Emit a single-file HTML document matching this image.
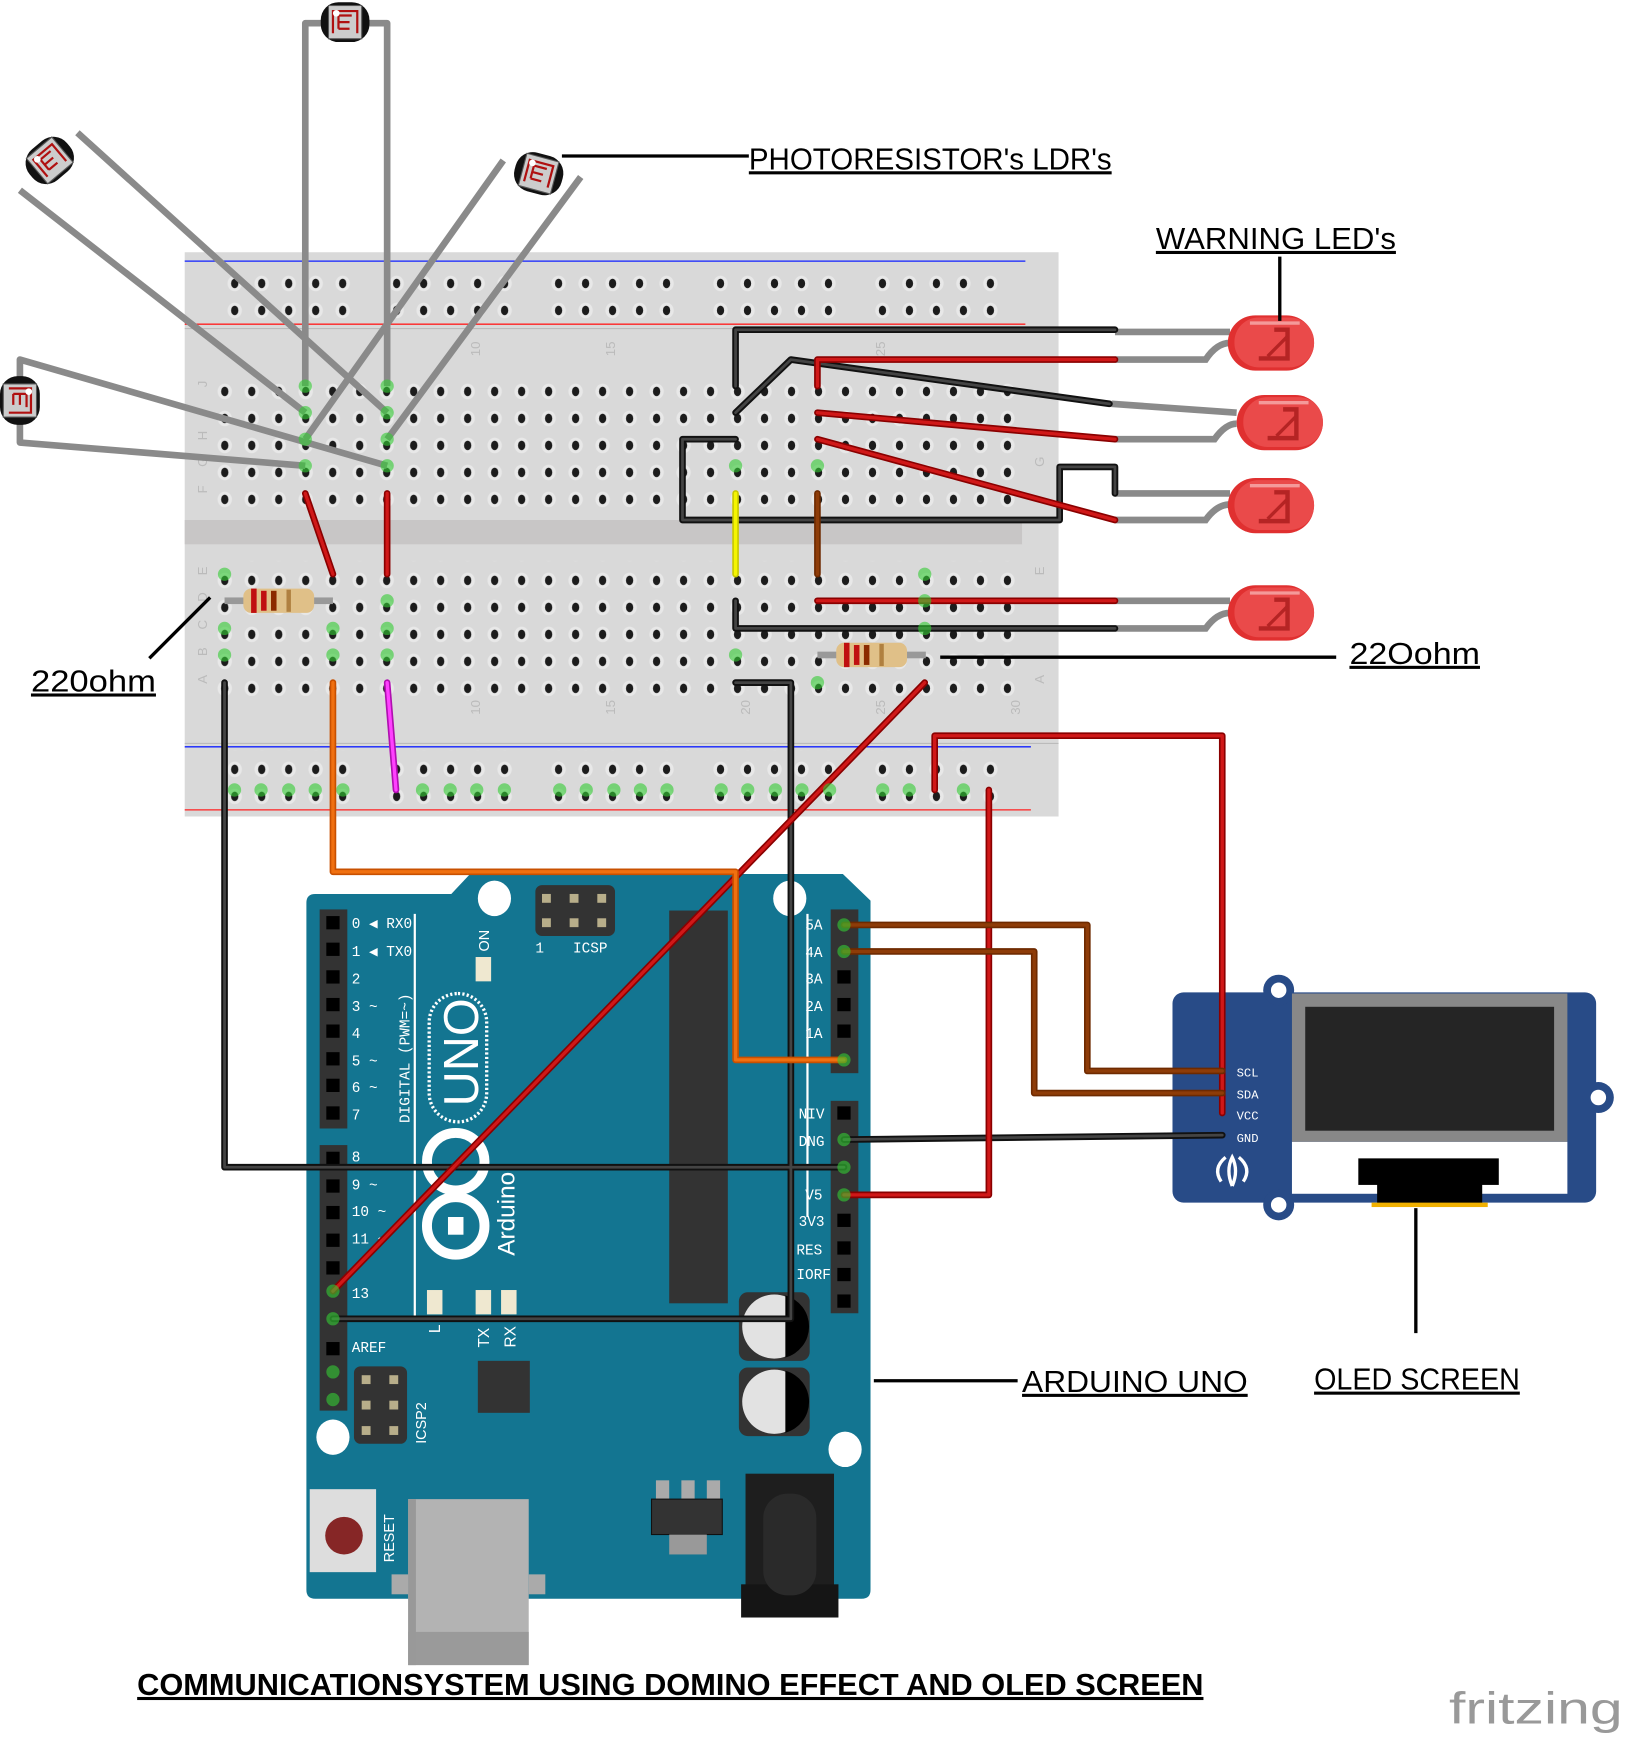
<!DOCTYPE html>
<html><head><meta charset="utf-8"><style>html,body{margin:0;padding:0;background:#fff}svg{display:block}</style></head>
<body>
<svg width="1626" height="1737" viewBox="0 0 1470 1570" preserveAspectRatio="none" xmlns="http://www.w3.org/2000/svg" font-family="Liberation Sans, sans-serif">
<defs>
<pattern id="mh" x="191" y="0" width="24.4" height="24.4" patternUnits="userSpaceOnUse"><ellipse cx="12.2" cy="12.2" rx="6.5" ry="7" fill="#e8e8e8"/><ellipse cx="12.2" cy="12.2" rx="3.3" ry="4.3" fill="#1c1c1c"/></pattern>
<pattern id="rh" x="200" y="0" width="24.4" height="24.4" patternUnits="userSpaceOnUse"><ellipse cx="12.2" cy="12.2" rx="6.5" ry="7" fill="#e8e8e8"/><ellipse cx="12.2" cy="12.2" rx="3.3" ry="4.3" fill="#1c1c1c"/></pattern>
<g id="led"><rect x="0" y="-25" width="78" height="50" rx="25" fill="#e03030"/><rect x="6" y="-23" width="72" height="45" rx="22" fill="#ea4a4a"/><path d="M42 -12 h12 v26 h-26" fill="none" stroke="#b52424" stroke-width="4"/><path d="M36 12 L54 -6" stroke="#b52424" stroke-width="3"/><path d="M20 -18 h45" stroke="#f49a9a" stroke-width="3"/></g>
<g id="ldr"><rect x="-22" y="-18" width="44" height="36" rx="16" fill="#111"/><rect x="-15" y="-15" width="30" height="30" fill="#ccc" stroke="#555" stroke-width="1"/><path d="M-11 10 v-20 h22 v20 M-6 6 v-12 h12 M-6 0 h10 M-6 6 h10" fill="none" stroke="#b01010" stroke-width="2"/><circle cx="-8" cy="-8" r="3" fill="#fff"/></g>
<g id="res"><rect x="0" y="-3" width="98" height="6" fill="#999"/><rect x="17" y="-11" width="64" height="22" rx="7" fill="#e0c088"/><rect x="24" y="-11" width="5" height="22" fill="#c01010"/><rect x="33" y="-9" width="5" height="18" fill="#c01010"/><rect x="42" y="-9" width="5" height="18" fill="#8b2a00"/><rect x="56" y="-10" width="4" height="20" fill="#b08040"/></g>
</defs>

<rect x="167" y="228" width="790" height="510" fill="#d9d9d9"/>
<rect x="167" y="470" width="757" height="22" fill="#c8c6c6"/>
<line x1="167" y1="236" x2="927" y2="236" stroke="#1020ff" stroke-width="1.2"/>
<line x1="167" y1="293" x2="927" y2="293" stroke="#ff2020" stroke-width="1.2"/>
<line x1="167" y1="297" x2="957" y2="297" stroke="#bbb" stroke-width="1"/>
<line x1="167" y1="675" x2="932" y2="675" stroke="#1020ff" stroke-width="1.2"/>
<line x1="167" y1="732" x2="932" y2="732" stroke="#ff2020" stroke-width="1.2"/>
<line x1="167" y1="672" x2="957" y2="672" stroke="#bbb" stroke-width="1"/>
<rect x="191" y="337" width="732" height="122" fill="url(#mh)"/>
<rect x="191" y="507" width="732" height="122" fill="url(#mh)"/>
<g fill="url(#rh)">
<rect x="200" y="239" width="122" height="49"/><rect x="348" y="239" width="122" height="49"/><rect x="494" y="239" width="122" height="49"/><rect x="640" y="239" width="122" height="49"/><rect x="786" y="239" width="122" height="49"/>
<rect x="200" y="678" width="122" height="49"/><rect x="348" y="678" width="122" height="49"/><rect x="494" y="678" width="122" height="49"/><rect x="640" y="678" width="122" height="49"/><rect x="786" y="678" width="122" height="49"/>
</g>
<g font-size="12" fill="#bbb">
<text x="183" y="354" transform="rotate(-90 183 350)">J</text><text x="183" y="378" transform="rotate(-90 183 374)">I</text><text x="183" y="402" transform="rotate(-90 183 398)">H</text><text x="183" y="426" transform="rotate(-90 183 422)">G</text><text x="183" y="450" transform="rotate(-90 183 446)">F</text>
<text x="183" y="524" transform="rotate(-90 183 520)">E</text><text x="183" y="548" transform="rotate(-90 183 544)">D</text><text x="183" y="573" transform="rotate(-90 183 569)">C</text><text x="183" y="597" transform="rotate(-90 183 593)">B</text><text x="183" y="622" transform="rotate(-90 183 618)">A</text>
<text x="428" y="328" transform="rotate(-90 428 322)">10</text><text x="550" y="328" transform="rotate(-90 550 322)">15</text><text x="794" y="328" transform="rotate(-90 794 322)">25</text>
<text x="428" y="652" transform="rotate(-90 428 646)">10</text><text x="550" y="652" transform="rotate(-90 550 646)">15</text><text x="672" y="652" transform="rotate(-90 672 646)">20</text><text x="794" y="652" transform="rotate(-90 794 646)">25</text><text x="916" y="652" transform="rotate(-90 916 646)">30</text>
<text x="940" y="524" transform="rotate(-90 940 520)">E</text><text x="940" y="622" transform="rotate(-90 940 618)">A</text><text x="940" y="426" transform="rotate(-90 940 422)">G</text>
</g>

<path d="M285 808 H408 L425 790 H762 L787 814 V1437 Q787 1445 779 1445 H285 Q277 1445 277 1437 V816 Q277 808 285 808Z" fill="#137591"/>
<rect x="289" y="822" width="25" height="198" fill="#333"/><rect x="289" y="1035" width="25" height="240" fill="#333"/>
<rect x="751" y="822" width="25" height="148" fill="#333"/><rect x="751" y="995" width="25" height="192" fill="#333"/>
<g fill="#000">
<rect x="295" y="828" width="12" height="12"/><rect x="295" y="852" width="12" height="12"/><rect x="295" y="877" width="12" height="12"/><rect x="295" y="902" width="12" height="12"/><rect x="295" y="926" width="12" height="12"/><rect x="295" y="951" width="12" height="12"/><rect x="295" y="975" width="12" height="12"/><rect x="295" y="1000" width="12" height="12"/>
<rect x="295" y="1041" width="12" height="12"/><rect x="295" y="1066" width="12" height="12"/><rect x="295" y="1090" width="12" height="12"/><rect x="295" y="1115" width="12" height="12"/><rect x="295" y="1140" width="12" height="12"/><rect x="295" y="1213" width="12" height="12"/>
<rect x="757" y="877" width="12" height="12"/><rect x="757" y="902" width="12" height="12"/><rect x="757" y="926" width="12" height="12"/><rect x="757" y="1000" width="12" height="12"/><rect x="757" y="1097" width="12" height="12"/><rect x="757" y="1122" width="12" height="12"/><rect x="757" y="1146" width="12" height="12"/><rect x="757" y="1170" width="12" height="12"/>
</g>
<rect x="605" y="823" width="53" height="355" fill="#333"/>
<rect x="484" y="800" width="72" height="46" rx="6" fill="#333"/>
<g fill="#b8ae8a"><rect x="490" y="808" width="8" height="8"/><rect x="515" y="808" width="8" height="8"/><rect x="540" y="808" width="8" height="8"/><rect x="490" y="830" width="8" height="8"/><rect x="515" y="830" width="8" height="8"/><rect x="540" y="830" width="8" height="8"/></g>
<rect x="320" y="1235" width="48" height="70" rx="6" fill="#333"/>
<g fill="#b8ae8a"><rect x="327" y="1243" width="8" height="8"/><rect x="352" y="1243" width="8" height="8"/><rect x="327" y="1266" width="8" height="8"/><rect x="352" y="1266" width="8" height="8"/><rect x="327" y="1289" width="8" height="8"/><rect x="352" y="1289" width="8" height="8"/></g>
<rect x="432" y="1230" width="47" height="47" fill="#333"/>
<rect x="668" y="1168" width="64" height="62" rx="8" fill="#333"/><circle cx="700" cy="1199" r="29" fill="#e2e2e2"/><path d="M710 1171 A29 29 0 0 1 710 1227Z" fill="#000"/>
<rect x="668" y="1236" width="64" height="62" rx="8" fill="#333"/><circle cx="700" cy="1267" r="29" fill="#e2e2e2"/><path d="M710 1239 A29 29 0 0 1 710 1295Z" fill="#000"/>
<g fill="#fff"><ellipse cx="447" cy="812" rx="15" ry="16"/><ellipse cx="714" cy="812" rx="15" ry="16"/><ellipse cx="301" cy="1299" rx="15" ry="16"/><ellipse cx="764" cy="1310" rx="15" ry="16"/></g>
<rect x="430" y="865" width="14" height="22" fill="#efe8d0"/>
<rect x="386" y="1166" width="14" height="22" fill="#efe8d0"/><rect x="430" y="1166" width="14" height="22" fill="#efe8d0"/><rect x="453" y="1166" width="14" height="22" fill="#efe8d0"/>
<line x1="375" y1="826" x2="375" y2="1190" stroke="#fff" stroke-width="2"/>
<line x1="730" y1="826" x2="730" y2="1100" stroke="#fff" stroke-width="2"/>
<rect x="388" y="898" width="52" height="116" rx="26" fill="none" stroke="#fff" stroke-width="3" stroke-dasharray="2 2"/>
<text x="0" y="0" font-size="44" fill="#fff" transform="translate(432 1000) rotate(-90)">UNO</text>
<circle cx="412" cy="1050" r="26" fill="none" stroke="#fff" stroke-width="9"/><circle cx="412" cy="1108" r="26" fill="none" stroke="#fff" stroke-width="9"/>
<rect x="405" y="1100" width="14" height="16" fill="#fff"/>
<text font-size="22" fill="#fff" transform="translate(465 1135) rotate(-90)">Arduino</text>
<text font-size="13" fill="#fff" font-family="Liberation Mono, monospace" transform="translate(370 1015) rotate(-90)">DIGITAL (PWM=~)</text>
<g font-size="13" fill="#fff" font-family="Liberation Mono, monospace">
<text x="318" y="839">0 ◀ RX0</text><text x="318" y="864">1 ◀ TX0</text><text x="318" y="889">2</text><text x="318" y="914">3 ~</text><text x="318" y="938">4</text><text x="318" y="963">5 ~</text><text x="318" y="987">6 ~</text><text x="318" y="1012">7</text>
<text x="318" y="1050">8</text><text x="318" y="1075">9 ~</text><text x="318" y="1099">10 ~</text><text x="318" y="1124">11 ~</text><text x="318" y="1173">13</text><text x="318" y="1222">AREF</text>
<text x="728" y="840">5A</text><text x="728" y="865">4A</text><text x="728" y="889">3A</text><text x="728" y="914">2A</text><text x="728" y="938">1A</text>
<text x="722" y="1011">NIV</text><text x="722" y="1036">DNG</text><text x="728" y="1084">V5</text><text x="722" y="1108">3V3</text><text x="720" y="1134">RES</text><text x="720" y="1156">IORF</text>
<text x="518" y="861">ICSP</text><text x="484" y="861">1</text>
</g>
<text font-size="13" fill="#fff" transform="translate(442 860) rotate(-90)">ON</text>
<text font-size="13" fill="#fff" transform="translate(385 1305) rotate(-90)">ICSP2</text>
<text font-size="13" fill="#fff" transform="translate(356 1412) rotate(-90)">RESET</text>
<text font-size="14" fill="#fff" transform="translate(442 1218) rotate(-90)">TX</text>
<text font-size="14" fill="#fff" transform="translate(466 1218) rotate(-90)">RX</text>
<text font-size="14" fill="#fff" transform="translate(398 1205) rotate(-90)">L</text>
<rect x="280" y="1346" width="60" height="75" fill="#ddd"/><ellipse cx="311" cy="1388" rx="17" ry="17" fill="#862626"/>
<rect x="369" y="1355" width="109" height="150" fill="#b3b3b3"/><rect x="369" y="1475" width="109" height="30" fill="#9a9a9a"/><rect x="369" y="1355" width="7" height="150" fill="#999"/>
<rect x="354" y="1423" width="15" height="18" fill="#aaa"/><rect x="478" y="1423" width="15" height="18" fill="#aaa"/>
<rect x="593" y="1338" width="12" height="22" fill="#aaa"/><rect x="616" y="1338" width="12" height="22" fill="#aaa"/><rect x="639" y="1338" width="12" height="22" fill="#aaa"/>
<rect x="589" y="1355" width="64" height="32" fill="#333" stroke="#111"/><rect x="605" y="1387" width="34" height="18" fill="#999"/>
<rect x="674" y="1332" width="80" height="110" fill="#1e1e1e"/><rect x="670" y="1432" width="88" height="30" fill="#151515"/><rect x="690" y="1350" width="48" height="92" rx="22" fill="#2a2a2a"/>

<rect x="1060" y="897" width="383" height="190" rx="10" fill="#284b87"/>
<circle cx="1156" cy="895" r="14" fill="#284b87"/><circle cx="1156" cy="895" r="7" fill="#fff"/>
<circle cx="1156" cy="1089" r="14" fill="#284b87"/><circle cx="1156" cy="1089" r="7" fill="#fff"/>
<circle cx="1445" cy="992" r="14" fill="#284b87"/><circle cx="1445" cy="992" r="7" fill="#fff"/>
<rect x="1168" y="1032" width="249" height="47" fill="#fff"/>
<rect x="1168" y="898" width="249" height="134" fill="#888"/><rect x="1180" y="910" width="225" height="112" fill="#252525"/>
<rect x="1228" y="1047" width="127" height="24" fill="#000"/><rect x="1245" y="1070" width="95" height="18" fill="#000"/><rect x="1240" y="1087" width="105" height="4" fill="#f0b000"/>
<g font-size="11" fill="#fff" font-family="Liberation Mono, monospace"><text x="1118" y="973">SCL</text><text x="1118" y="993">SDA</text><text x="1118" y="1012">VCC</text><text x="1118" y="1032">GND</text></g>
<path d="M1104 1068 q-8 -12 4 -22 M1124 1068 q8 -12 -4 -22 M1114 1072 q-6 -14 0 -26 q6 12 0 26" fill="none" stroke="#fff" stroke-width="3"/>

<g stroke="#8a8a8a" stroke-width="6" fill="none" stroke-linejoin="round">
<path d="M276 349 V21 H350 V349"/>
<path d="M350 373 L70 120 M276 373 L18 172"/>
<path d="M276 397 L455 145 M350 397 L525 160"/>
<path d="M350 421 L18 325 V400 L276 421"/>
</g>
<use href="#ldr" x="312" y="20"/>
<use href="#ldr" transform="translate(45 145) rotate(-40)"/>
<use href="#ldr" transform="translate(487 157) rotate(15)"/>
<use href="#ldr" transform="translate(18 362) rotate(90)"/>

<g stroke="#8a8a8a" stroke-width="6" fill="none">
<path d="M1008 300 H1112"/><path d="M1008 325 H1090 Q1100 310 1112 310"/>
<path d="M1005 365 L1118 373"/><path d="M1008 397 H1098 Q1108 383 1118 383"/>
<path d="M1008 446 H1112"/><path d="M1008 470 H1090 Q1100 456 1112 456"/>
<path d="M1008 543 H1112"/><path d="M1008 568 H1090 Q1100 554 1112 554"/>
</g>
<use href="#led" x="1110" y="310"/><use href="#led" x="1118" y="382"/><use href="#led" x="1110" y="457"/><use href="#led" x="1110" y="554"/>

<use href="#res" x="203" y="543"/><use href="#res" x="739" y="592"/>

<g fill="none" stroke-width="6" stroke-linecap="round" stroke-linejoin="round">
<g stroke="#111"><path d="M665 349 V298 H1008"/><path d="M665 373 L715 325 L1003 365"/><path d="M665 397 H617 V470 H958 V422 H1008 V446"/><path d="M665 543 V568 H1008"/><path d="M203 617 V1055 H763"/><path d="M665 617 H715 V1192 H301"/><path d="M763 1030 L1105 1026"/></g>
<g stroke="#444" stroke-width="2.5"><path d="M665 349 V298 H1008"/><path d="M665 373 L715 325 L1003 365"/><path d="M665 397 H617 V470 H958 V422 H1008 V446"/><path d="M665 543 V568 H1008"/><path d="M203 617 V1055 H763"/><path d="M665 617 H715 V1192 H301"/><path d="M763 1030 L1105 1026"/></g>
<g stroke="#8a0000"><path d="M276 446 L301 519"/><path d="M350 446 V519"/><path d="M739 349 V325 H1008"/><path d="M739 373 L1008 397"/><path d="M739 397 L1008 470"/><path d="M739 543 H1008"/><path d="M836 617 L301 1167"/><path d="M845 714 V665 H1105 V1006"/><path d="M894 714 V1080 H763"/></g>
<g stroke="#d01818" stroke-width="3"><path d="M276 446 L301 519"/><path d="M350 446 V519"/><path d="M739 349 V325 H1008"/><path d="M739 373 L1008 397"/><path d="M739 397 L1008 470"/><path d="M739 543 H1008"/><path d="M836 617 L301 1167"/><path d="M845 714 V665 H1105 V1006"/><path d="M894 714 V1080 H763"/></g>
<g stroke="#6e2a00"><path d="M739 446 V519"/><path d="M763 836 H983 V968 H1105"/><path d="M763 860 H935 V988 H1105"/></g>
<g stroke="#8e3c08" stroke-width="3"><path d="M739 446 V519"/><path d="M763 836 H983 V968 H1105"/><path d="M763 860 H935 V988 H1105"/></g>
<path d="M665 446 V519" stroke="#c8c800"/><path d="M665 446 V519" stroke="#f5f500" stroke-width="3"/>
<path d="M350 617 L358 714" stroke="#b010b0"/><path d="M350 617 L358 714" stroke="#ff40ff" stroke-width="3"/>
<path d="M301 617 V788 H665 V958 H763" stroke="#c85000"/><path d="M301 617 V788 H665 V958 H763" stroke="#f07010" stroke-width="3"/>
</g>
<g fill="#3c3" opacity="0.6">
<circle cx="276" cy="349" r="6"/><circle cx="350" cy="349" r="6"/><circle cx="276" cy="373" r="6"/><circle cx="350" cy="373" r="6"/><circle cx="276" cy="397" r="6"/><circle cx="350" cy="397" r="6"/><circle cx="276" cy="421" r="6"/><circle cx="350" cy="421" r="6"/>
<circle cx="203" cy="519" r="6"/><circle cx="203" cy="568" r="6"/><circle cx="203" cy="592" r="6"/><circle cx="301" cy="568" r="6"/><circle cx="301" cy="592" r="6"/><circle cx="350" cy="543" r="6"/><circle cx="350" cy="568" r="6"/><circle cx="350" cy="592" r="6"/>
<circle cx="665" cy="421" r="6"/><circle cx="739" cy="421" r="6"/><circle cx="665" cy="592" r="6"/><circle cx="739" cy="617" r="6"/><circle cx="836" cy="519" r="6"/><circle cx="836" cy="543" r="6"/><circle cx="836" cy="568" r="6"/>
<circle cx="212" cy="714" r="6"/><circle cx="236" cy="714" r="6"/><circle cx="261" cy="714" r="6"/><circle cx="285" cy="714" r="6"/><circle cx="310" cy="714" r="6"/><circle cx="382" cy="714" r="6"/><circle cx="407" cy="714" r="6"/><circle cx="431" cy="714" r="6"/><circle cx="456" cy="714" r="6"/>
<circle cx="506" cy="714" r="6"/><circle cx="530" cy="714" r="6"/><circle cx="555" cy="714" r="6"/><circle cx="579" cy="714" r="6"/><circle cx="603" cy="714" r="6"/><circle cx="652" cy="714" r="6"/><circle cx="676" cy="714" r="6"/><circle cx="701" cy="714" r="6"/><circle cx="725" cy="714" r="6"/><circle cx="750" cy="714" r="6"/><circle cx="798" cy="714" r="6"/><circle cx="822" cy="714" r="6"/><circle cx="871" cy="714" r="6"/>
<circle cx="763" cy="836" r="6"/><circle cx="763" cy="860" r="6"/><circle cx="763" cy="958" r="6"/><circle cx="763" cy="1030" r="6"/><circle cx="763" cy="1055" r="6"/><circle cx="763" cy="1080" r="6"/><circle cx="301" cy="1167" r="6"/><circle cx="301" cy="1192" r="6"/><circle cx="301" cy="1240" r="6"/><circle cx="301" cy="1265" r="6"/>
</g>

<g stroke="#000" stroke-width="3" fill="none">
<path d="M508 141 H677"/><path d="M1157 232 V290"/><path d="M135 595 L190 540"/><path d="M850 594 H1208"/><path d="M790 1248 H920"/><path d="M1280 1092 V1205"/>
</g>
<g font-size="28" fill="#000" font-family="Liberation Sans, sans-serif" text-decoration="underline">
<text x="677" y="153" textLength="328" lengthAdjust="spacingAndGlyphs">PHOTORESISTOR's LDR's</text>
<text x="1045" y="225" textLength="217" lengthAdjust="spacingAndGlyphs">WARNING LED's</text>
<text x="28" y="625" textLength="113" lengthAdjust="spacingAndGlyphs">220ohm</text>
<text x="1220" y="600" textLength="118" lengthAdjust="spacingAndGlyphs">22Oohm</text>
<text x="924" y="1258" textLength="204" lengthAdjust="spacingAndGlyphs">ARDUINO UNO</text>
<text x="1188" y="1256" textLength="186" lengthAdjust="spacingAndGlyphs">OLED SCREEN</text>
<text x="124" y="1532" font-weight="bold" textLength="964" lengthAdjust="spacingAndGlyphs">COMMUNICATIONSYSTEM USING DOMINO EFFECT AND OLED SCREEN</text>
</g>
<text x="1310" y="1558" font-size="40" fill="#999" textLength="157" lengthAdjust="spacingAndGlyphs">fritzing</text>
</svg>
</body></html>
